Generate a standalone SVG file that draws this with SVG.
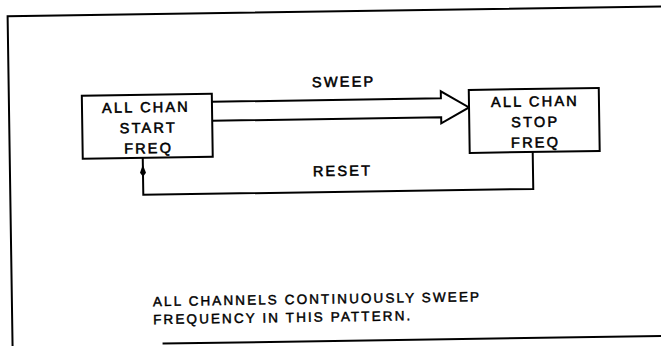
<svg xmlns="http://www.w3.org/2000/svg" width="661" height="346" viewBox="0 0 661 346">
<style>
.ln{fill:none;stroke:#000;stroke-width:2;stroke-linejoin:miter}
.box{fill:#fff;stroke:#000;stroke-width:2}
.t{font-family:"Liberation Sans",Arial,sans-serif;font-size:14.5px;letter-spacing:2.2px;fill:#000;stroke:#000;stroke-width:0.55;text-anchor:middle}
.n{font-family:"Liberation Sans",Arial,sans-serif;font-size:13.5px;letter-spacing:2.1px;fill:#000;stroke:#000;stroke-width:0.45}
</style>
<rect width="661" height="346" fill="#fff"/>
<g transform="rotate(-0.86 330 173)">
<g id="frame">
<path class="ln" d="M10,360 V11.5 H680" stroke-width="2.5"/>
<path class="ln" d="M160,341 H680" stroke-width="2.5"/>
</g>
<g id="connectors">
<path class="ln" d="M213,100 H442 V93 L470,109.5 L442,125 V119 H213"/>
<path class="ln" d="M533,155 V192 H143 V155"/>
<path d="M143,162 L146,170 L143,174 L140,170 Z" fill="#000"/>
<text class="t" x="345" y="87">SWEEP</text>
<text class="t" x="342.5" y="176">RESET</text>
</g>
<g id="start">
<rect class="box" x="83" y="92" width="130" height="63"/>
<text class="t" x="147" y="109.5">ALL CHAN</text>
<text class="t" x="149" y="130">START</text>
<text class="t" x="149" y="150.5">FREQ</text>
</g>
<g id="stop">
<rect class="box" x="470" y="92" width="130" height="63"/>
<text class="t" x="536" y="109.5">ALL CHAN</text>
<text class="t" x="536" y="130">STOP</text>
<text class="t" x="536" y="150.5">FREQ</text>
</g>
<g id="note">
<text class="n" x="151" y="303.5">ALL CHANNELS CONTINUOUSLY SWEEP</text>
<text class="n" x="151" y="321.5">FREQUENCY IN THIS PATTERN.</text>
</g>
</g>
</svg>
